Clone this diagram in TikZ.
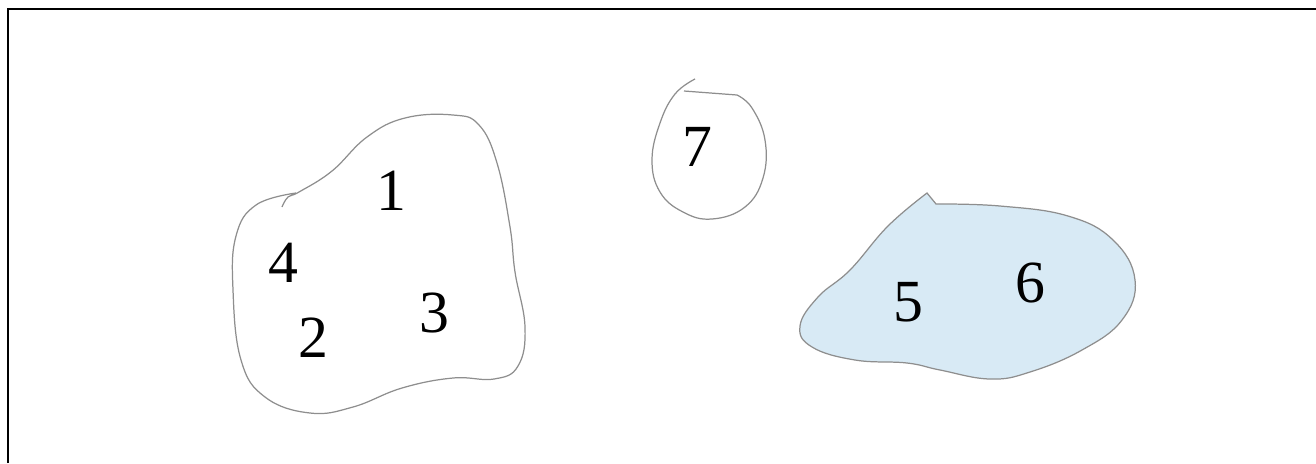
\documentclass[tikz,border=0pt]{standalone}
\usepackage{fontspec}
\setmainfont{Liberation Serif}
\usepackage{tikz}
\definecolor{Edge} {HTML}{8E8E8E}
\definecolor{Sky}  {HTML}{D8EAF5}
\tikzset{
  region/.style={draw=Edge, line width=0.35pt},
  lbl/.style={inner sep=0pt, font=\fontsize{17}{20}\selectfont}
}

\begin{document}
\begin{tikzpicture}[x=0.01cm, y=-0.01cm]
  \useasboundingbox (0,0) rectangle (1316,463);
  \draw[line width=0.6pt] (8,463) -- (8,9) -- (1316,9);
  % left region
  \draw[region] plot[smooth, tension=0.7] coordinates {
    (282,207) (288,197) (299,192) (332,171) (367,137) (405,118) (453,115)
    (479,125) (497,163) (510,227) (515,272) (525,327) (518,366) (494,379)
    (453,378) (402,388) (353,407) (310,413) (265,397) (241,360) (233,290)
    (236,236) (256,205) (296,193)};
  % small region
  \draw[region] plot[smooth, tension=0.7] coordinates {
    (695,79) (675,94) (660,123) (652,160) (660,192) (683,212) (712,219)
    (745,207) (763,178) (765,140) (752,108) (737,95)} -- (684,91);
  % right region
  \draw[region, fill=Sky] plot[smooth, tension=0.7] coordinates {
    (936,204) (1000,206) (1068,216) (1113,240) (1135,280) (1122,320)
    (1082,350) (1030,372) (990,379) (940,370) (907,363) (855,360)
    (812,347) (800,326) (818,297) (850,270) (888,226) (927,193)} -- cycle;
  \node[lbl] (n1) at (391,191) {1};
  \node[lbl] (n4) at (283,263) {4};
  \node[lbl] (n2) at (313,338) {2};
  \node[lbl] (n3) at (434,313) {3};
  \node[lbl] (n7) at (697,147) {7};
  \node[lbl] (n5) at (908,302) {5};
  \node[lbl] (n6) at (1030,283) {6};
\end{tikzpicture}
\end{document}
